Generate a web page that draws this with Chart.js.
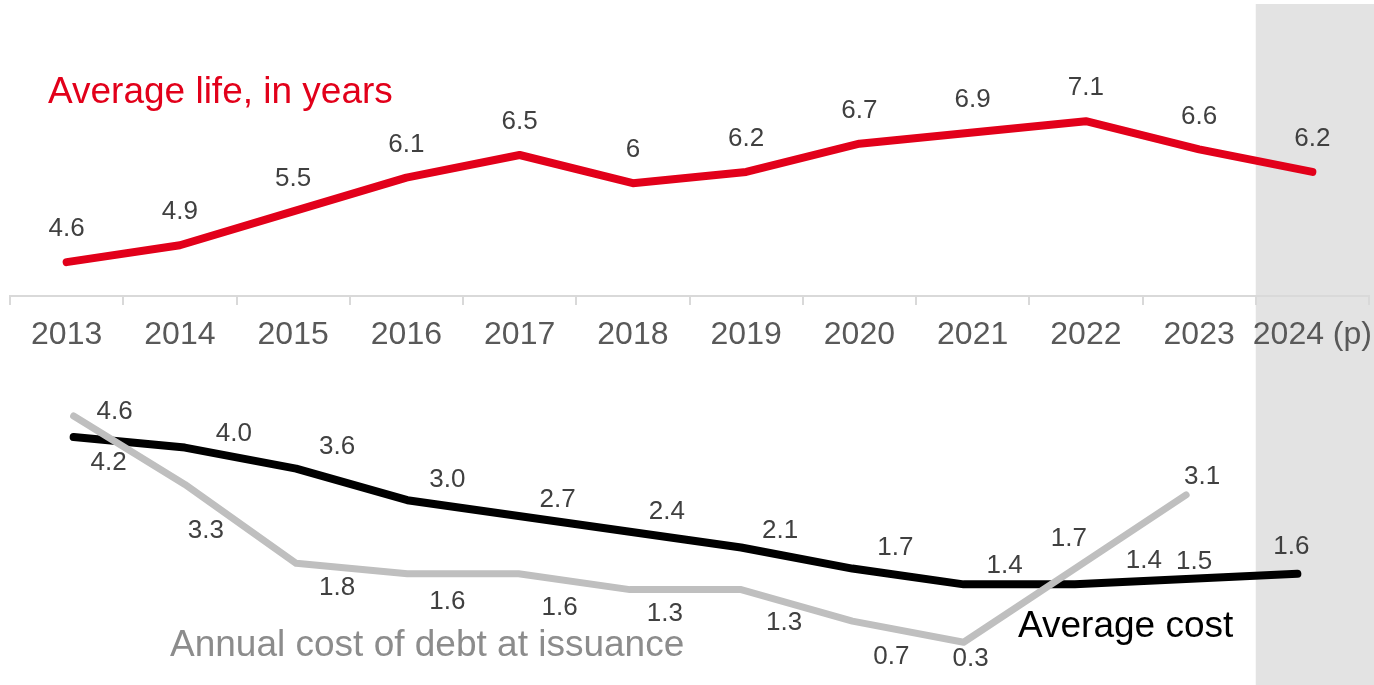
<!DOCTYPE html>
<html>
<head>
<meta charset="utf-8">
<script src="https://cdn.jsdelivr.net/npm/chart.js@4"></script>
<style>
  body { margin: 0; background: #fff; }
  #wrap { position: relative; width: 1374px; height: 685px; }
  #wrap canvas { position: absolute; left: 0; }
  #life-chart { top: 0; }
  #cost-chart { top: 356px; }
</style>
</head>
<body>
<div id="wrap">
  <canvas id="life-chart" width="1374" height="356"></canvas>
  <canvas id="cost-chart" width="1374" height="329"></canvas>
</div>
<script>
const years = ['2013', '2014', '2015', '2016', '2017', '2018', '2019', '2020', '2021', '2022', '2023', '2024 (p)'];
const avgLife = [4.6, 4.9, 5.5, 6.1, 6.5, 6, 6.2, 6.7, 6.9, 7.1, 6.6, 6.2];
const avgCost = [4.2, 4.0, 3.6, 3.0, 2.7, 2.4, 2.1, 1.7, 1.4, 1.4, 1.5, 1.6];
const issuanceCost = [4.6, 3.3, 1.8, 1.6, 1.6, 1.3, 1.3, 0.7, 0.3, 1.7, 3.1, null];

// where each value label sits relative to its point (dx, dy)
const avgCostShift = [[35, 26], [49, -14], [41, -22], [40, -20], [39, -16], [37, -20], [39, -17], [43, -21], [41, -19], [69, -24], [8, -17], [-6, -27]];
const issuanceShift = [[41, -4], [21, 46], [41, 25], [40, 28], [41, 34], [35, 24], [43, 33], [39, 36], [7, 17], [-6, -30], [16, -18]];

const FONT = '"Liberation Sans", Arial, sans-serif';

// grey band behind the projected year, left edge taken from the top chart
let bandLeft = 0;
const projectedBand = {
  id: 'projectedBand',
  beforeDraw(chart, args, opts) {
    const x = chart.scales.x;
    if (opts.measure) {
      bandLeft = x.getPixelForValue(years.length - 1) - x.width / years.length / 2;
    }
    const ctx = chart.ctx;
    ctx.save();
    ctx.fillStyle = '#e3e3e3';
    ctx.fillRect(bandLeft, opts.top, chart.width - bandLeft, chart.height - opts.top);
    ctx.restore();
  }
};

// value labels next to each point
const valueLabels = {
  id: 'valueLabels',
  afterDatasetsDraw(chart) {
    const ctx = chart.ctx;
    ctx.save();
    ctx.font = '26px ' + FONT;
    ctx.fillStyle = '#404040';
    ctx.textAlign = 'center';
    ctx.textBaseline = 'middle';
    chart.data.datasets.forEach((ds, di) => {
      const meta = chart.getDatasetMeta(di);
      meta.data.forEach((pt, i) => {
        const v = ds.data[i];
        if (v === null || v === undefined) return;
        const s = ds.labelShift ? ds.labelShift[i] : [0, -33];
        ctx.fillText(ds.labelFormat(v), pt.x + s[0], pt.y + s[1]);
      });
    });
    ctx.restore();
  }
};

// series names written on the plot
const notes = {
  id: 'notes',
  afterDraw(chart, args, opts) {
    const ctx = chart.ctx;
    ctx.save();
    ctx.textAlign = 'left';
    ctx.textBaseline = 'alphabetic';
    (opts.items || []).forEach((n) => {
      ctx.font = '37px ' + FONT;
      ctx.fillStyle = n.color;
      ctx.fillText(n.text, n.x, n.y);
    });
    ctx.restore();
  }
};

const lifeChart = new Chart(document.getElementById('life-chart'), {
  type: 'line',
  data: {
    labels: years,
    datasets: [
      {
        data: avgLife,
        borderColor: '#e2001a',
        borderWidth: 8,
        borderCapStyle: 'round',
        borderJoinStyle: 'round',
        pointRadius: 0,
        tension: 0,
        labelFormat: (v) => String(v),
      },
    ],
  },
  options: {
    responsive: false,
    animation: false,
    layout: { padding: { left: 10, right: 5, top: 14, bottom: 0 } },
    scales: {
      x: {
        offset: true,
        grid: { display: true, drawOnChartArea: false, offset: true, tickLength: 9, color: '#d9d9d9', lineWidth: 2 },
        border: { display: true, color: '#d9d9d9', width: 2 },
        ticks: { font: { size: 32, family: FONT }, color: '#595959', padding: 11, maxRotation: 0, autoSkip: false },
        afterFit: (scale) => {
          scale.height = 60;
          scale.paddingLeft = 0;
          scale.paddingRight = 0;
        },
      },
      y: { display: false, min: 4, max: 9 },
    },
    plugins: {
      legend: { display: false },
      tooltip: { enabled: false },
      projectedBand: { measure: true, top: 4 },
      notes: { items: [{ text: 'Average life, in years', x: 48, y: 103, color: '#e2001a' }] },
    },
  },
  plugins: [projectedBand, valueLabels, notes],
});

new Chart(document.getElementById('cost-chart'), {
  type: 'line',
  data: {
    labels: years,
    datasets: [
      {
        data: issuanceCost,
        borderColor: '#bfbfbf',
        borderWidth: 7,
        borderCapStyle: 'round',
        borderJoinStyle: 'round',
        pointRadius: 0,
        tension: 0,
        labelShift: issuanceShift,
        labelFormat: (v) => v.toFixed(1),
      },
      {
        data: avgCost,
        borderColor: '#000000',
        borderWidth: 8,
        borderCapStyle: 'round',
        borderJoinStyle: 'round',
        pointRadius: 0,
        tension: 0,
        labelShift: avgCostShift,
        labelFormat: (v) => v.toFixed(1),
      },
    ],
  },
  options: {
    responsive: false,
    animation: false,
    layout: { padding: { left: 18, right: 21, top: 39, bottom: 27 } },
    scales: {
      x: { display: false, offset: true },
      y: { display: false, min: 0, max: 5 },
    },
    plugins: {
      legend: { display: false },
      tooltip: { enabled: false },
      projectedBand: { measure: false, top: 0 },
      notes: {
        items: [
          { text: 'Average cost', x: 1018, y: 281, color: '#000000' },
          { text: 'Annual cost of debt at issuance', x: 170, y: 300, color: '#8c8c8c' },
        ],
      },
    },
  },
  plugins: [projectedBand, valueLabels, notes],
});
</script>
</body>
</html>
